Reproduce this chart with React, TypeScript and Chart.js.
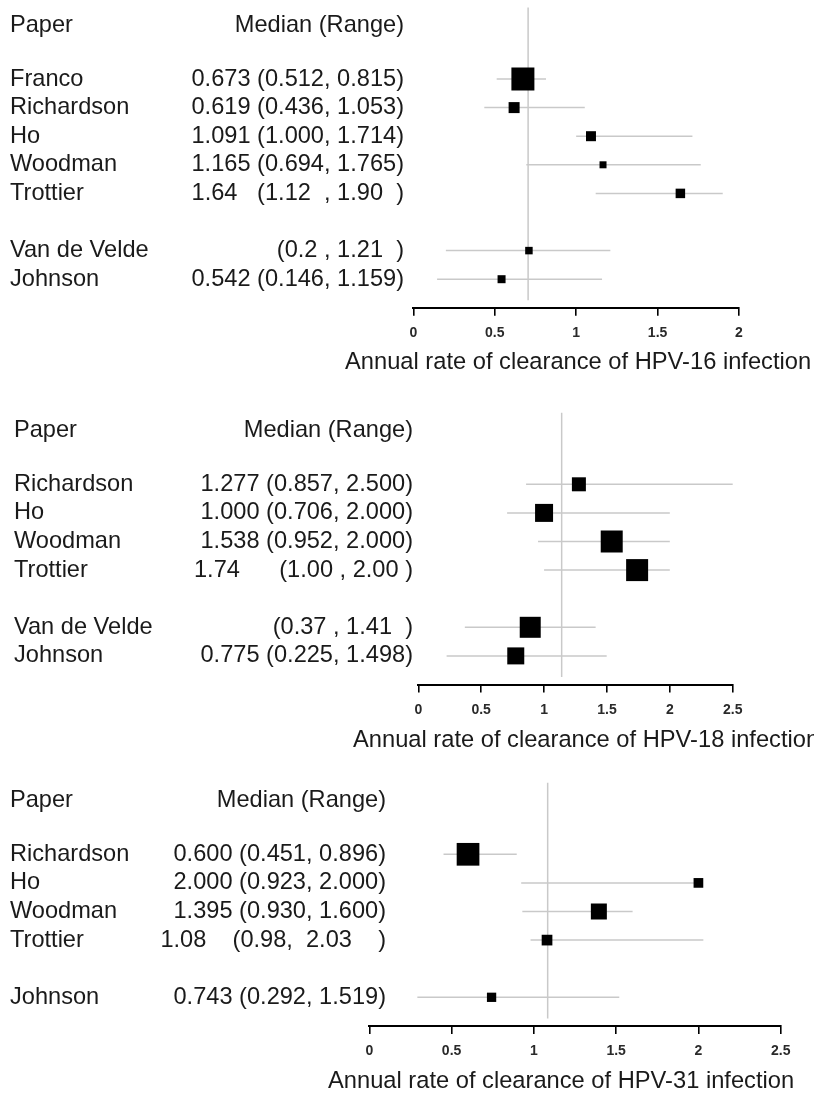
import React, { useEffect, useRef } from "react";
import { Chart, registerables } from "chart.js";

Chart.register(...registerables);

// ---------- Panel 1: HPV-16 ----------
const papers16 = ["Franco", "Richardson", "Ho", "Woodman", "Trottier", "Van de Velde", "Johnson"];
const rows16 = [1, 2, 3, 4, 5, 7, 8];
const median16 = [0.673, 0.619, 1.091, 1.165, 1.64, 0.71, 0.542];
const lower16 = [0.512, 0.436, 1.0, 0.694, 1.12, 0.2, 0.146];
const upper16 = [0.815, 1.053, 1.714, 1.765, 1.9, 1.21, 1.159];
const weight16 = [23, 11, 10, 7, 9.5, 7.5, 8];
const labels16 = [
  "0.673 (0.512, 0.815)",
  "0.619 (0.436, 1.053)",
  "1.091 (1.000, 1.714)",
  "1.165 (0.694, 1.765)",
  "1.64   (1.12  , 1.90  )",
  "(0.2 , 1.21  )",
  "0.542 (0.146, 1.159)",
];
const pooled16 = 0.705;
const ticks16 = [0, 0.5, 1, 1.5, 2];
const tickLabels16 = ["0", "0.5", "1", "1.5", "2"];
const title16 = "Annual rate of clearance of HPV-16 infection";

// ---------- Panel 2: HPV-18 ----------
const papers18 = ["Richardson", "Ho", "Woodman", "Trottier", "Van de Velde", "Johnson"];
const rows18 = [1, 2, 3, 4, 6, 7];
const median18 = [1.277, 1.0, 1.538, 1.74, 0.89, 0.775];
const lower18 = [0.857, 0.706, 0.952, 1.0, 0.37, 0.225];
const upper18 = [2.5, 2.0, 2.0, 2.0, 1.41, 1.498];
const weight18 = [14, 18, 22, 22, 21, 17];
const labels18 = [
  "1.277 (0.857, 2.500)",
  "1.000 (0.706, 2.000)",
  "1.538 (0.952, 2.000)",
  "1.74      (1.00 , 2.00 )",
  "(0.37 , 1.41  )",
  "0.775 (0.225, 1.498)",
];
const pooled18 = 1.14;
const ticks18 = [0, 0.5, 1, 1.5, 2, 2.5];
const tickLabels18 = ["0", "0.5", "1", "1.5", "2", "2.5"];
const title18 = "Annual rate of clearance of HPV-18 infection";

// ---------- Panel 3: HPV-31 ----------
const papers31 = ["Richardson", "Ho", "Woodman", "Trottier", "Johnson"];
const rows31 = [1, 2, 3, 4, 6];
const median31 = [0.6, 2.0, 1.395, 1.08, 0.743];
const lower31 = [0.451, 0.923, 0.93, 0.98, 0.292];
const upper31 = [0.896, 2.0, 1.6, 2.03, 1.519];
const weight31 = [22.7, 9.7, 16, 10.7, 9.3];
const labels31 = [
  "0.600 (0.451, 0.896)",
  "2.000 (0.923, 2.000)",
  "1.395 (0.930, 1.600)",
  "1.08    (0.98,  2.03    )",
  "0.743 (0.292, 1.519)",
];
const pooled31 = 1.084;
const ticks31 = [0, 0.5, 1, 1.5, 2, 2.5];
const tickLabels31 = ["0", "0.5", "1", "1.5", "2", "2.5"];
const title31 = "Annual rate of clearance of HPV-31 infection";

const HEADER_ROW = -0.88;
const FONT = "'Liberation Sans', Arial, Helvetica, sans-serif";
const TEXT_COLOR = "#1a1a1a";
const LINE_GRAY = "#c9c9c9";
const ROW_STEP = 28.6;
const AXIS_H = 40;

type Panel = {
  papers: string[];
  rows: number[];
  medians: number[];
  lower: number[];
  upper: number[];
  weights: number[];
  labels: string[];
  pooled: number;
  ticks: number[];
  tickLabels: string[];
  title: string;
  top: number;
  height: number;
  firstRowPx: number;
  padL: number;
  padR: number;
  nameX: number;
  valueX: number;
  titleX: number;
  titleY: number;
};

const panels: Panel[] = [
  {
    papers: papers16, rows: rows16, medians: median16, lower: lower16, upper: upper16,
    weights: weight16, labels: labels16, pooled: pooled16, ticks: ticks16, tickLabels: tickLabels16,
    title: title16, top: 0, height: 385, firstRowPx: 79, padL: 413.3, padR: 75,
    nameX: 10, valueX: 404, titleX: 345, titleY: 362,
  },
  {
    papers: papers18, rows: rows18, medians: median18, lower: lower18, upper: upper18,
    weights: weight18, labels: labels18, pooled: pooled18, ticks: ticks18, tickLabels: tickLabels18,
    title: title18, top: 385, height: 375, firstRowPx: 484.3, padL: 418.3, padR: 81.3,
    nameX: 14, valueX: 413, titleX: 353, titleY: 740,
  },
  {
    papers: papers31, rows: rows31, medians: median31, lower: lower31, upper: upper31,
    weights: weight31, labels: labels31, pooled: pooled31, ticks: ticks31, tickLabels: tickLabels31,
    title: title31, top: 760, height: 336, firstRowPx: 854.3, padL: 369.3, padR: 33.3,
    nameX: 10, valueX: 386, titleX: 328, titleY: 1081,
  },
];

function makeTextPlugin(p: Panel) {
  return {
    id: "forestText",
    afterDraw(chart: any) {
      const ctx = chart.ctx as CanvasRenderingContext2D;
      const y = chart.scales.y;
      ctx.save();
      ctx.fillStyle = TEXT_COLOR;
      ctx.font = `23.6px ${FONT}`;
      ctx.textBaseline = "middle";
      const hy = y.getPixelForValue(HEADER_ROW);
      ctx.textAlign = "left";
      ctx.fillText("Paper", p.nameX, hy);
      ctx.textAlign = "right";
      ctx.fillText("Median (Range)", p.valueX, hy);
      p.papers.forEach((name, i) => {
        const py = y.getPixelForValue(p.rows[i]);
        ctx.textAlign = "left";
        ctx.fillText(name, p.nameX, py);
        ctx.textAlign = "right";
        ctx.fillText(p.labels[i], p.valueX, py);
      });
      ctx.textAlign = "left";
      ctx.font = `23.7px ${FONT}`;
      ctx.fillText(p.title, p.titleX, p.titleY - p.top);
      ctx.restore();
    },
  };
}

function buildChart(canvas: HTMLCanvasElement, p: Panel) {
  const lastRow = Math.max(...p.rows);
  const yMin = -1.5;
  const yMax = lastRow + 1;
  const padTop = p.firstRowPx - p.top - (1 - yMin) * ROW_STEP;
  const bottomLocal = padTop + (yMax - yMin) * ROW_STEP;
  const padBottom = p.height - AXIS_H - bottomLocal;

  const datasets: any[] = [];
  datasets.push({
    label: "median",
    data: p.rows.map((r, i) => ({ x: p.medians[i], y: r })),
    pointStyle: "rect",
    pointRadius: p.weights.map((w) => w / Math.SQRT2),
    pointHoverRadius: p.weights.map((w) => w / Math.SQRT2),
    backgroundColor: "#000",
    borderColor: "#000",
    borderWidth: 0,
    showLine: false,
    clip: false,
  });
  p.rows.forEach((r, i) => {
    datasets.push({
      label: "range " + p.papers[i],
      data: [
        { x: p.lower[i], y: r },
        { x: p.upper[i], y: r },
      ],
      showLine: true,
      borderColor: LINE_GRAY,
      borderWidth: 1.5,
      pointRadius: 0,
      pointHoverRadius: 0,
      clip: false,
    });
  });
  datasets.push({
    label: "pooled",
    data: [
      { x: p.pooled, y: yMin },
      { x: p.pooled, y: lastRow + 0.74 },
    ],
    showLine: true,
    borderColor: LINE_GRAY,
    borderWidth: 1.5,
    pointRadius: 0,
    pointHoverRadius: 0,
    clip: false,
  });

  return new Chart(canvas, {
    type: "scatter",
    data: { datasets },
    plugins: [makeTextPlugin(p)],
    options: {
      animation: false,
      responsive: false,
      events: [],
      layout: {
        autoPadding: false,
        padding: { left: p.padL, right: p.padR, top: padTop, bottom: padBottom },
      },
      plugins: {
        legend: { display: false },
        tooltip: { enabled: false },
        title: { display: false },
      },
      scales: {
        x: {
          type: "linear",
          min: 0,
          max: p.ticks[p.ticks.length - 1],
          afterBuildTicks: (scale: any) => {
            scale.ticks = p.ticks.map((v) => ({ value: v }));
          },
          afterFit: (scale: any) => {
            scale.height = AXIS_H;
          },
          ticks: {
            autoSkip: false,
            maxRotation: 0,
            padding: 9,
            color: "#2a2a2a",
            font: { family: FONT, size: 14, weight: "bold" },
            callback: (v: any) => {
              const idx = p.ticks.indexOf(Number(v));
              return idx >= 0 ? p.tickLabels[idx] : "";
            },
          },
          grid: {
            drawOnChartArea: false,
            drawTicks: true,
            tickLength: 8,
            color: "#000",
            lineWidth: 1.6,
          },
          border: { display: true, color: "#000", width: 2 },
        },
        y: {
          type: "linear",
          display: false,
          reverse: true,
          min: yMin,
          max: yMax,
        },
      },
    } as any,
  });
}

export default function App() {
  const refs = [useRef<HTMLCanvasElement>(null), useRef<HTMLCanvasElement>(null), useRef<HTMLCanvasElement>(null)];

  useEffect(() => {
    document.body.style.margin = "0";
    document.body.style.background = "#fff";
    const charts = panels.map((p, i) => buildChart(refs[i].current as HTMLCanvasElement, p));
    return () => charts.forEach((c) => c.destroy());
  }, []);

  return (
    <div style={{ position: "relative", width: 814, height: 1096, overflow: "hidden", background: "#fff" }}>
      {panels.map((p, i) => (
        <canvas
          key={i}
          ref={refs[i]}
          width={814}
          height={p.height}
          style={{ position: "absolute", left: 0, top: p.top, width: 814, height: p.height, display: "block" }}
        />
      ))}
    </div>
  );
}
